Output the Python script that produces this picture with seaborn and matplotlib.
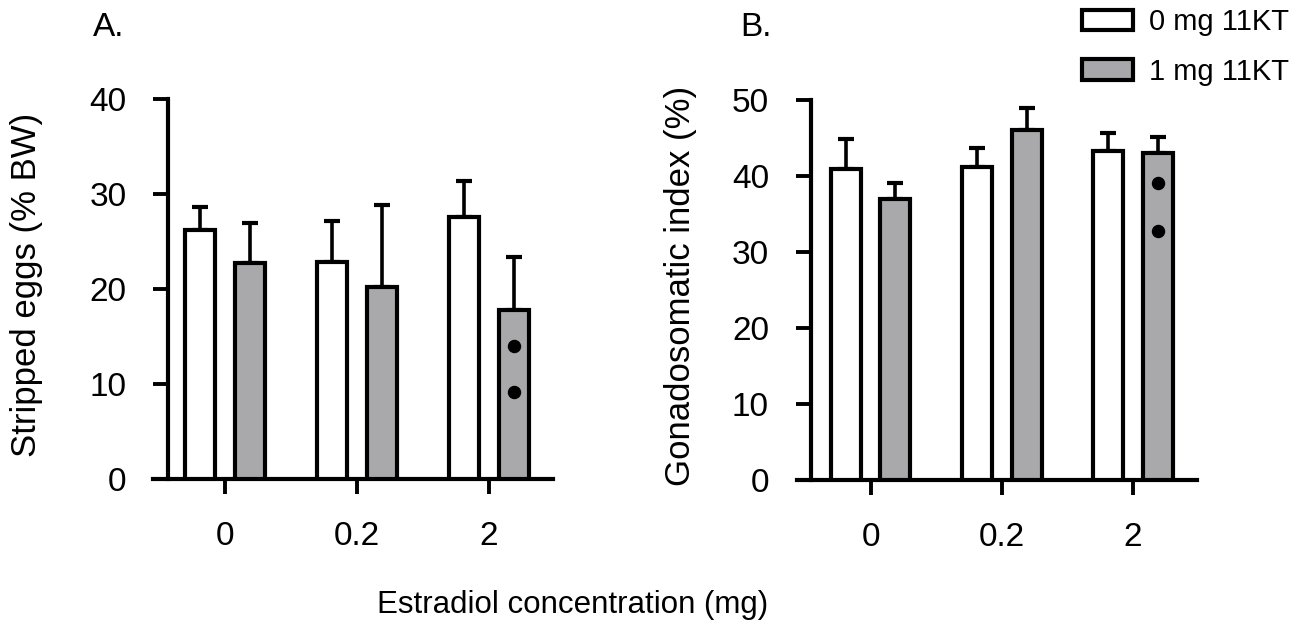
import numpy as np
import pandas as pd
import matplotlib
matplotlib.use("Agg")
import matplotlib.pyplot as plt
from matplotlib.patches import Patch
import seaborn as sns

# data
estradiol = ["0", "0.2", "2"]
treatments = ["0 mg 11KT", "1 mg 11KT"]

eggs_0kt = [26.2, 22.8, 27.6]
eggs_1kt = [22.7, 20.2, 17.8]
eggs_err_0kt = [2.4, 4.4, 3.8]
eggs_err_1kt = [4.2, 8.6, 5.6]
eggs_dots = [14.0, 9.2]

gsi_0kt = [40.9, 41.2, 43.3]
gsi_1kt = [37.0, 46.1, 43.0]
gsi_err_0kt = [4.0, 2.5, 2.4]
gsi_err_1kt = [2.1, 2.8, 2.1]
gsi_dots = [39.1, 32.8]

GRAY = "#a8a8ac"
LW = 3.0
FONT = ["Liberation Sans", "DejaVu Sans"]


def make_df(v0, v1, e0, e1):
    rows = []
    for i, e in enumerate(estradiol):
        rows.append({"estradiol": e, "treatment": treatments[0], "value": v0[i], "err": e0[i]})
        rows.append({"estradiol": e, "treatment": treatments[1], "value": v1[i], "err": e1[i]})
    return pd.DataFrame(rows)


def draw_panel(ax, df, dots, ymax, spine_x, xlim, ylabel, label_x):
    sns.barplot(data=df, x="estradiol", y="value", hue="treatment",
                order=estradiol, hue_order=treatments,
                palette=["white", GRAY], width=0.76, gap=0.4,
                edgecolor="black", linewidth=LW, errorbar=None,
                legend=False, ax=ax, zorder=3)

    bars = sorted(ax.patches, key=lambda p: p.get_x())
    xs = np.array([p.get_x() + p.get_width() / 2 for p in bars])
    hs = np.array([p.get_height() for p in bars])
    errs = df["err"].to_numpy()
    ax.errorbar(xs, hs, yerr=[np.zeros_like(errs), errs], fmt="none",
                ecolor="black", elinewidth=2.6, capsize=5.5, capthick=3.0,
                zorder=2)

    # significance dots in the last grey bar
    ax.scatter([xs[-1]] * len(dots), dots, s=75, color="black", zorder=4)

    ax.set_ylim(0, ymax)
    ax.set_xlim(*xlim)
    ax.set_yticks(np.arange(0, ymax + 1, 10))
    sns.despine(ax=ax)
    ax.spines["left"].set_position(("data", spine_x))
    ax.spines["left"].set_bounds(0, ymax)
    for s in ["left", "bottom"]:
        ax.spines[s].set_linewidth(LW)
        ax.spines[s].set_color("black")
    ax.tick_params(axis="both", length=11, width=2.8, labelsize=24,
                   direction="out", color="black", labelcolor="black",
                   bottom=True, left=True)
    ax.tick_params(axis="y", pad=19)
    ax.tick_params(axis="x", pad=19)
    ax.set_xlabel("")
    ax.set_ylabel(ylabel, fontsize=25, family=FONT, color="black")
    ax.yaxis.set_label_coords(label_x, 0.51)
    for t in ax.get_xticklabels() + ax.get_yticklabels():
        t.set_family(FONT)


sns.set_style("white")
plt.rcParams["font.family"] = FONT
plt.rcParams["text.color"] = "black"

fig = plt.figure(figsize=(13.13, 6.32), dpi=100)
ax_a = fig.add_axes([153 / 1313, 1 - 479 / 632, 400 / 1313, 380 / 632])
ax_b = fig.add_axes([797 / 1313, 1 - 480 / 632, 400 / 1313, 380 / 632])

draw_panel(ax_a, make_df(eggs_0kt, eggs_1kt, eggs_err_0kt, eggs_err_1kt),
           eggs_dots, 40, -0.43, (-0.545, 2.485),
           "Stripped eggs (% BW)", -0.275)
draw_panel(ax_b, make_df(gsi_0kt, gsi_1kt, gsi_err_0kt, gsi_err_1kt),
           gsi_dots, 50, -0.456, (-0.56, 2.487),
           "Gonadosomatic index (%)", -0.25)

fig.text(93 / 1313, 1 - 28 / 632, "A.", fontsize=24, va="center", ha="left")
fig.text(740 / 1313, 1 - 28 / 632, "B.", fontsize=24, va="center", ha="left")
fig.text(573 / 1313, 1 - 605 / 632, "Estradiol concentration (mg)",
         fontsize=22.5, ha="center", va="center")

handles = [Patch(facecolor="white", edgecolor="black", linewidth=LW),
           Patch(facecolor=GRAY, edgecolor="black", linewidth=LW)]
fig.legend(handles, treatments, loc="upper left",
           bbox_to_anchor=(1082 / 1313, 1 - 8 / 632), frameon=False,
           fontsize=21, borderpad=0, borderaxespad=0, handlelength=1.75,
           handleheight=0.7, handletextpad=0.55, labelspacing=0.75)

fig.savefig("out.png", dpi=100)
